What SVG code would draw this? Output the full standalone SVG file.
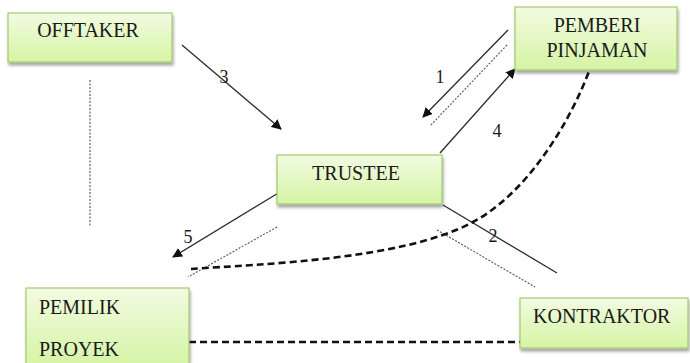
<svg xmlns="http://www.w3.org/2000/svg" width="690" height="363" viewBox="0 0 690 363">
  <defs>
    <linearGradient id="boxFill" x1="0" y1="0" x2="0" y2="1">
      <stop offset="0" stop-color="#f2fbe2"/>
      <stop offset="1" stop-color="#d5f4a4"/>
    </linearGradient>
    <filter id="shadow" x="-10%" y="-20%" width="120%" height="150%">
      <feDropShadow dx="1" dy="3" stdDeviation="1.8" flood-color="#000" flood-opacity="0.35"/>
    </filter>
    <marker id="arrow" viewBox="0 0 10 10" refX="9" refY="5" markerWidth="10" markerHeight="10" markerUnits="userSpaceOnUse" orient="auto">
      <path d="M0,0 L10,5 L0,10 z" fill="#111"/>
    </marker>
  </defs>
  <style>
    .box { fill: url(#boxFill); stroke: #a6c869; stroke-width: 1.2; filter: url(#shadow); }
    text { font-family: 'Liberation Serif', 'DejaVu Serif', serif; fill: #1a1a1a; }
    .label { font-size: 20px; }
    .num { font-size: 18px; text-anchor: middle; }
    .flow { stroke: #2b2b2b; stroke-width: 1.3; fill: none; }
    .dots { stroke: #555; stroke-width: 1.1; stroke-dasharray: 2 1.5; fill: none; }
    .bold { stroke: #111; stroke-width: 2.6; stroke-dasharray: 7 4; fill: none; }
  </style>
  <rect width="690" height="363" fill="#fff"/>

  <g id="connectors">
    <!-- 3: offtaker to trustee -->
    <line class="flow" x1="182" y1="45" x2="281" y2="129" marker-end="url(#arrow)"/>
    <!-- vertical dotted line under offtaker -->
    <line class="dots" x1="90" y1="80" x2="90" y2="226"/>
    <!-- 1: lender to trustee -->
    <line class="flow" x1="508" y1="30" x2="423" y2="117" marker-end="url(#arrow)"/>
    <line class="dots" x1="507" y1="45" x2="430" y2="126"/>
    <!-- 4: trustee to lender -->
    <line class="flow" x1="440" y1="153" x2="515" y2="69" marker-end="url(#arrow)"/>
    <!-- 5: trustee to project owner -->
    <line class="flow" x1="280" y1="192" x2="173" y2="257" marker-end="url(#arrow)"/>
    <line class="dots" x1="277" y1="227" x2="188" y2="277"/>
    <!-- 2: trustee to contractor -->
    <line class="flow" x1="443" y1="205" x2="557" y2="273"/>
    <line class="dots" x1="437" y1="230" x2="535" y2="287"/>
    <!-- bold dashed links -->
    <path class="bold" d="M191,269 C261,264 403,260 473,222 C526,194 570,124 591,66"/>
    <line class="bold" x1="189" y1="342" x2="520" y2="342"/>
    <!-- step numbers -->
    <text class="num" x="224" y="83" font-family="Liberation Serif, serif">3</text>
    <text class="num" x="440" y="83" font-family="Liberation Serif, serif">1</text>
    <text class="num" x="497" y="137" font-family="Liberation Serif, serif">4</text>
    <text class="num" x="188" y="243" font-family="Liberation Serif, serif">5</text>
    <text class="num" x="493" y="242" font-family="Liberation Serif, serif">2</text>
  </g>

  <g id="offtaker">
    <rect class="box" x="8" y="13" width="164" height="49"/>
    <text class="label" x="88" y="37" text-anchor="middle">OFFTAKER</text>
  </g>

  <g id="pemberi-pinjaman">
    <rect class="box" x="515" y="7" width="162" height="63"/>
    <text class="label" x="597" y="32" text-anchor="middle">PEMBERI</text>
    <text class="label" x="597" y="57" text-anchor="middle">PINJAMAN</text>
  </g>

  <g id="trustee">
    <rect class="box" x="277" y="155" width="165" height="49"/>
    <text class="label" x="356" y="180" text-anchor="middle">TRUSTEE</text>
  </g>

  <g id="pemilik-proyek">
    <rect class="box" x="26" y="288" width="163" height="80"/>
    <text class="label" x="39" y="314">PEMILIK</text>
    <text class="label" x="39" y="356">PROYEK</text>
  </g>

  <g id="kontraktor">
    <rect class="box" x="520" y="298" width="168" height="50"/>
    <text class="label" x="533" y="323">KONTRAKTOR</text>
  </g>
</svg>
